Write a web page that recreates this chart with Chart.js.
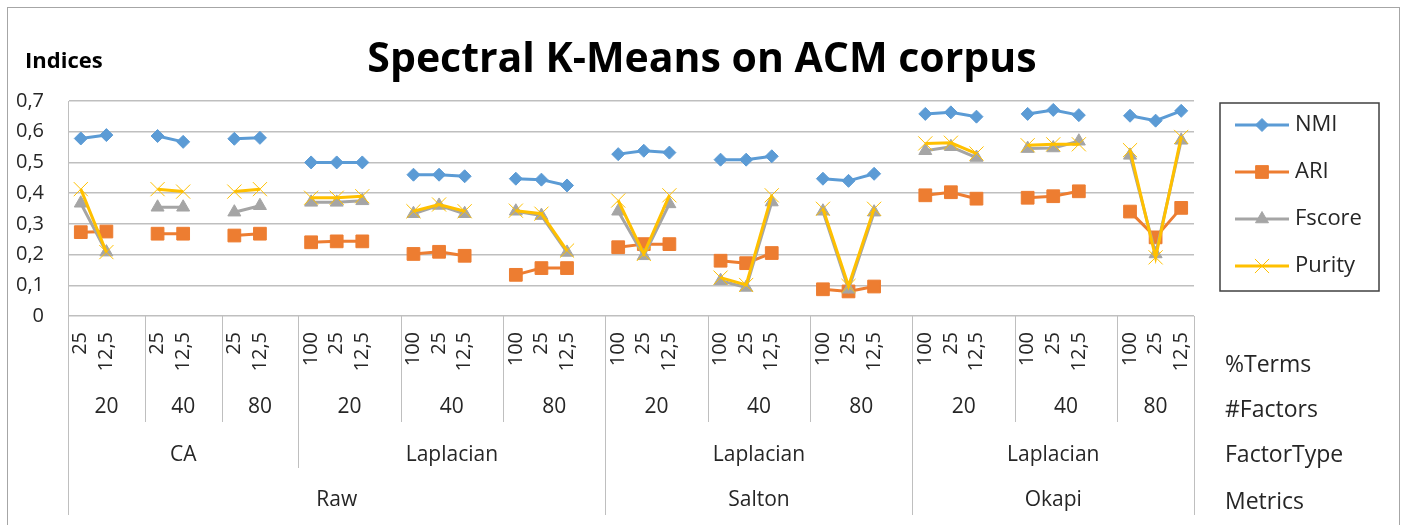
<!DOCTYPE html>
<html>
<head>
<meta charset="utf-8">
<script src="https://cdn.jsdelivr.net/npm/chart.js@4.4.1/dist/chart.umd.min.js"></script>
<style>
  body { margin: 0; background: #fff; }
  #wrap { width: 1405px; height: 525px; }
</style>
</head>
<body>
<div id="wrap"><canvas id="chart" width="1405" height="525"></canvas></div>
<script>
// %Terms per category slot ('' = spacer slot between factor groups)
const termLabels = [
    '25', '12,5', '', '25', '12,5', '', '25', '12,5', '',
    '100', '25', '12,5', '', '100', '25', '12,5', '', '100', '25', '12,5', '',
    '100', '25', '12,5', '', '100', '25', '12,5', '', '100', '25', '12,5', '',
    '100', '25', '12,5', '', '100', '25', '12,5', '', '100', '25', '12,5'
];
const factorLabels = ['20', '40', '80', '20', '40', '80', '20', '40', '80', '20', '40', '80'];
const factorSlots = [3, 3, 3, 4, 4, 4, 4, 4, 4, 4, 4, 3];
const factorTypeLabels = ['CA', 'Laplacian', 'Laplacian', 'Laplacian'];
const factorTypeSlots = [9, 12, 12, 11];
const metricLabels = ['Raw', 'Salton', 'Okapi'];
const metricSlots = [21, 12, 11];
const rowLabels = ['%Terms', '#Factors', 'FactorType', 'Metrics'];
const yTicks = [0, 0.1, 0.2, 0.3, 0.4, 0.5, 0.6, 0.7];

const nmi = [
    0.578, 0.589, null, 0.586, 0.567, null, 0.577, 0.580, null,
    0.500, 0.500, 0.500, null, 0.460, 0.460, 0.455, null, 0.447, 0.444, 0.425, null,
    0.527, 0.538, 0.532, null, 0.509, 0.509, 0.520, null, 0.447, 0.440, 0.463, null,
    0.658, 0.663, 0.649, null, 0.658, 0.671, 0.654, null, 0.652, 0.636, 0.668
];
const ari = [
    0.273, 0.275, null, 0.268, 0.268, null, 0.262, 0.268, null,
    0.240, 0.243, 0.243, null, 0.202, 0.209, 0.196, null, 0.134, 0.156, 0.156, null,
    0.224, 0.234, 0.234, null, 0.180, 0.172, 0.205, null, 0.087, 0.080, 0.096, null,
    0.393, 0.403, 0.382, null, 0.385, 0.390, 0.406, null, 0.340, 0.256, 0.352
];
const fscore = [
    0.367, 0.208, null, 0.354, 0.354, null, 0.338, 0.359, null,
    0.370, 0.370, 0.375, null, 0.333, 0.360, 0.333, null, 0.341, 0.327, 0.207, null,
    0.341, 0.196, 0.365, null, 0.115, 0.093, 0.371, null, 0.341, 0.087, 0.338, null,
    0.538, 0.551, 0.516, null, 0.545, 0.547, 0.569, null, 0.523, 0.202, 0.572
];
const purity = [
    0.413, 0.208, null, 0.413, 0.405, null, 0.405, 0.413, null,
    0.385, 0.385, 0.390, null, 0.341, 0.363, 0.341, null, 0.343, 0.333, 0.213, null,
    0.376, 0.202, 0.393, null, 0.125, 0.101, 0.393, null, 0.349, 0.098, 0.349, null,
    0.562, 0.564, 0.529, null, 0.556, 0.559, 0.559, null, 0.540, 0.191, 0.583
];

const FONT = '"Open Sans", sans-serif';
const TEXT = '#262626';
const LINE = '#bfbfbf';

// Hierarchical category axis, title, legend, frame
const decorations = {
    id: 'decorations',
    afterDraw(chart) {
        const { ctx, chartArea, scales } = chart;
        const x = scales.x;
        const step = x.getPixelForValue(1) - x.getPixelForValue(0);
        const edge = (slot) => x.getPixelForValue(0) - step / 2 + slot * step;
        const base = chartArea.bottom;

        ctx.save();
        // outer frame
        ctx.strokeStyle = '#a6a6a6';
        ctx.lineWidth = 1;
        ctx.strokeRect(7.5, 7.5, 1392, 540);

        // title + axis caption
        ctx.fillStyle = '#000';
        ctx.textAlign = 'center';
        ctx.textBaseline = 'middle';
        ctx.font = 'bold 41px ' + FONT;
        ctx.fillText('Spectral K-Means on ACM corpus', 702, 60);
        ctx.textAlign = 'left';
        ctx.font = 'bold 22px ' + FONT;
        ctx.fillText('Indices', 25, 62);

        // %Terms (rotated)
        ctx.fillStyle = TEXT;
        ctx.font = '20px ' + FONT;
        termLabels.forEach((t, i) => {
            if (!t) return;
            ctx.save();
            ctx.translate(x.getPixelForValue(i), base + 16);
            ctx.rotate(-Math.PI / 2);
            ctx.textAlign = 'right';
            ctx.textBaseline = 'middle';
            ctx.fillText(t, 0, 0);
            ctx.restore();
        });

        ctx.font = '21px ' + FONT;
        const drawLevel = (labels, slots, textY, lineEnd) => {
            let s = 0;
            ctx.strokeStyle = LINE;
            ctx.lineWidth = 1;
            labels.forEach((lab, i) => {
                const x0 = edge(s);
                const x1 = edge(s + slots[i]);
                ctx.textAlign = 'center';
                ctx.textBaseline = 'middle';
                ctx.fillText(lab, (x0 + x1) / 2, textY);
                [x0, x1].forEach(px => {
                    ctx.beginPath();
                    ctx.moveTo(Math.round(px) + 0.5, base);
                    ctx.lineTo(Math.round(px) + 0.5, lineEnd);
                    ctx.stroke();
                });
                s += slots[i];
            });
        };
        drawLevel(factorLabels, factorSlots, base + 91, base + 106);
        drawLevel(factorTypeLabels, factorTypeSlots, base + 139, base + 152);
        drawLevel(metricLabels, metricSlots, base + 184, base + 199);

        // row captions
        ctx.font = '23px ' + FONT;
        ctx.textAlign = 'left';
        ctx.fillStyle = TEXT;
        [base + 49, base + 94, base + 139, base + 186].forEach((yy, i) => {
            ctx.fillText(rowLabels[i], 1225, yy);
        });

        // legend
        ctx.strokeStyle = '#404040';
        ctx.lineWidth = 1.5;
        ctx.strokeRect(1220, 103, 159, 188);
        ctx.font = '22px ' + FONT;
        chart.data.datasets.forEach((ds, i) => {
            const yy = 125 + i * 47;
            ctx.strokeStyle = ds.borderColor;
            ctx.lineWidth = 3;
            ctx.beginPath();
            ctx.moveTo(1235, yy);
            ctx.lineTo(1289, yy);
            ctx.stroke();
            ctx.fillStyle = ds.backgroundColor;
            ctx.strokeStyle = ds.borderColor;
            ctx.lineWidth = ds.pointBorderWidth;
            Chart.helpers.drawPoint(ctx, {
                pointStyle: ds.pointStyle, radius: ds.pointRadius, rotation: 0,
                borderWidth: ds.pointBorderWidth
            }, 1262, yy);
            ctx.fillStyle = TEXT;
            ctx.textAlign = 'left';
            ctx.fillText(ds.label, 1295, yy);
        });
        ctx.restore();
    }
};

new Chart(document.getElementById('chart'), {
    type: 'line',
    data: {
        labels: termLabels,
        datasets: [
            { label: 'NMI', data: nmi, borderColor: '#5b9bd5', backgroundColor: '#5b9bd5',
              pointStyle: 'rectRot', pointRadius: 6.5, pointBorderWidth: 1, order: 3 },
            { label: 'ARI', data: ari, borderColor: '#ed7d31', backgroundColor: '#ed7d31',
              pointStyle: 'rect', pointRadius: 9, pointBorderWidth: 1, order: 2 },
            { label: 'Fscore', data: fscore, borderColor: '#a5a5a5', backgroundColor: '#a5a5a5',
              pointStyle: 'triangle', pointRadius: 7.5, pointBorderWidth: 1, order: 1 },
            { label: 'Purity', data: purity, borderColor: '#ffc000', backgroundColor: '#ffc000',
              pointStyle: 'crossRot', pointRadius: 10, pointBorderWidth: 1, order: 0 }
        ].map(ds => Object.assign(ds, { borderWidth: 3, tension: 0, spanGaps: false, pointHoverRadius: ds.pointRadius }))
    },
    options: {
        responsive: false,
        animation: false,
        events: [],
        layout: { padding: { top: 101, right: 211, left: 0, bottom: 0 } },
        plugins: { legend: { display: false }, tooltip: { enabled: false }, title: { display: false } },
        scales: {
            x: {
                offset: true,
                ticks: { display: false },
                grid: { display: false, offset: true },
                border: { display: false },
                afterFit: (s) => { s.height = 209; }
            },
            y: {
                min: 0,
                max: 0.7,
                afterBuildTicks: (s) => { s.ticks = yTicks.map(v => ({ value: v })); },
                afterFit: (s) => { s.width = 68; },
                ticks: {
                    padding: 24,
                    color: TEXT,
                    font: { family: FONT, size: 20 },
                    callback: (v) => String(Math.round(v * 10) / 10).replace('.', ',')
                },
                grid: { color: LINE, lineWidth: 1.5, drawTicks: false },
                border: { display: true, color: LINE, width: 1 }
            }
        }
    },
    plugins: [decorations]
});
</script>
</body>
</html>
